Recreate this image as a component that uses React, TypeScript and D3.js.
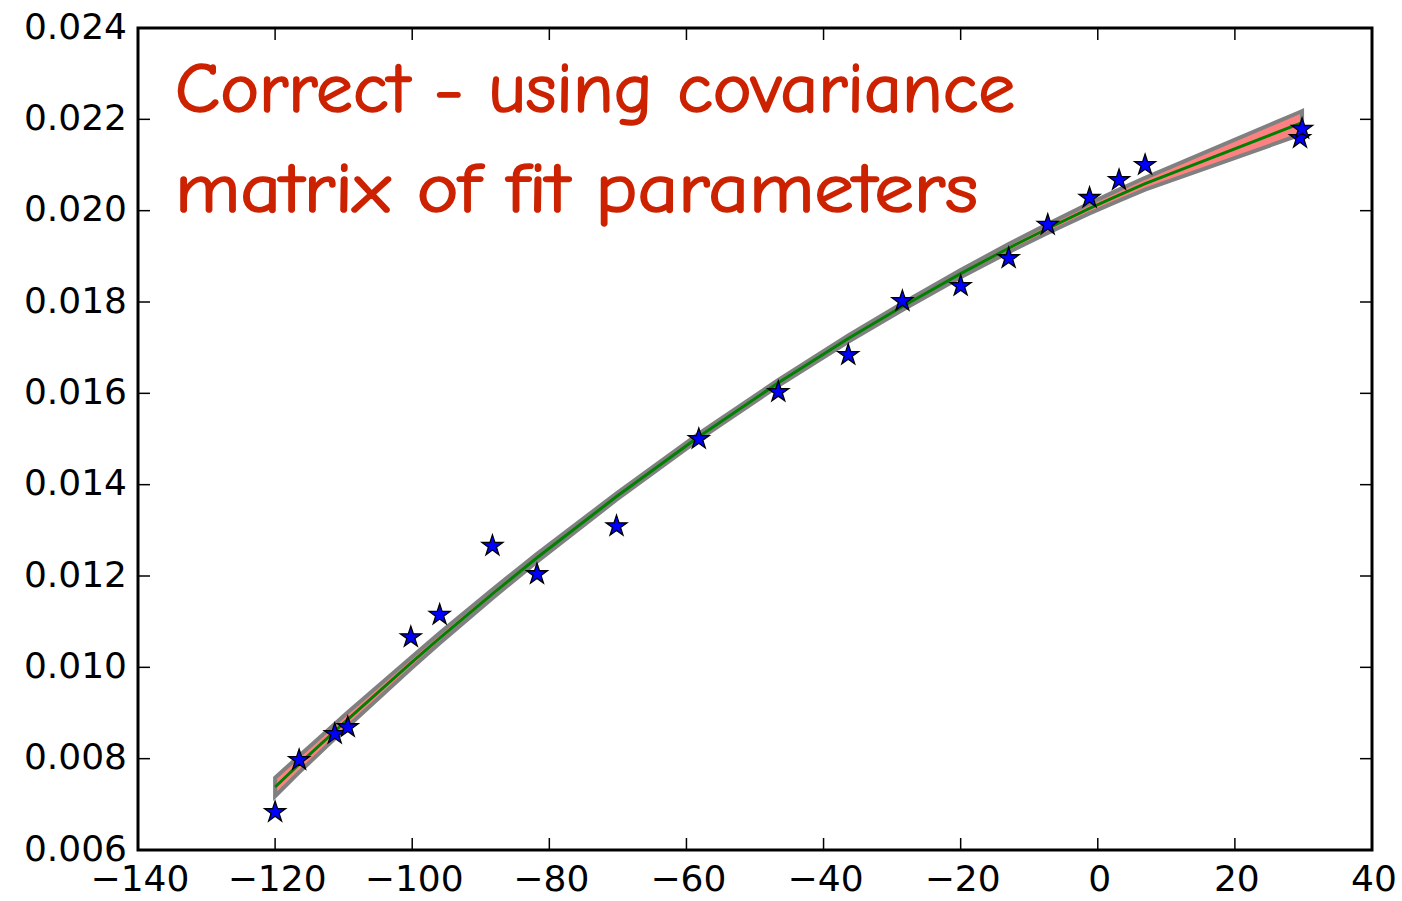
import React from "react";
import * as d3 from "d3";

// Observed data points (stars)
const pointX = [-120.0, -116.5, -111.3, -109.4, -100.2, -96.0, -88.3, -81.8, -70.2, -58.2, -46.6, -36.4, -28.5, -20.0, -13.0, -7.3, -1.2, 3.1, 6.9, 29.5, 29.8];
const pointY = [0.00683, 0.00797, 0.00854, 0.00869, 0.01066, 0.01115, 0.01266, 0.01204, 0.01309, 0.01500, 0.01603, 0.01684, 0.01802, 0.01835, 0.01896, 0.01969, 0.02028, 0.02067, 0.02100, 0.02159, 0.02179];

// Fitted curve evaluated at the data x positions, and its 1-sigma half-width
const fitY = [0.00738, 0.00788, 0.00860, 0.00886, 0.01009, 0.01064, 0.01161, 0.01240, 0.01374, 0.01505, 0.01623, 0.01720, 0.01790, 0.01862, 0.01918, 0.01961, 0.02005, 0.02034, 0.02059, 0.02191, 0.02192];
const fitErr = [0.00020, 0.00018, 0.00016, 0.000155, 0.00012, 0.00011, 0.000095, 0.000085, 0.00007, 0.000065, 0.000065, 0.00007, 0.000075, 0.00008, 0.00009, 0.0001, 0.00011, 0.00012, 0.00013, 0.00025, 0.00026];

const xTicks = [-140, -120, -100, -80, -60, -40, -20, 0, 20, 40];
const yTicks = [0.006, 0.008, 0.010, 0.012, 0.014, 0.016, 0.018, 0.020, 0.022, 0.024];

const titleLines = ["Correct - using covariance", "matrix of fit parameters"];

const W = 1402;
const H = 901;
const L = 138, R = 1372, T = 28, B = 850;

export default function App() {
  const x = d3.scaleLinear().domain([-140, 40]).range([L, R]);
  const y = d3.scaleLinear().domain([0.006, 0.024]).range([B, T]);

  const fitData = pointX.map((px, i) => ({ x: px, f: fitY[i], e: fitErr[i] })).sort((a, b) => a.x - b.x);

  const area = d3
    .area<{ x: number; f: number; e: number }>()
    .x((d) => x(d.x))
    .y0((d) => y(d.f - d.e))
    .y1((d) => y(d.f + d.e));
  const line = d3
    .line<{ x: number; f: number; e: number }>()
    .x((d) => x(d.x))
    .y((d) => y(d.f));

  const star = d3.symbol().type(d3.symbolStar).size(136)();
  const fmtY = d3.format(".3f");
  const fmtX = (v: number) => (v < 0 ? "\u2212" + Math.abs(v) : String(v));
  const tickLen = 12;
  const font = "'DejaVu Sans', sans-serif";

  return (
    <div style={{ position: "absolute", left: 0, top: 0 }}>
      <svg width={W} height={H} style={{ display: "block", background: "#fff" }}>
        <rect x={0} y={0} width={W} height={H} fill="#fff" />
        {/* band */}
        <path d={area(fitData) || ""} fill="#ff8080" stroke="#808080" strokeWidth={4} strokeLinejoin="miter" />
        {/* fit line */}
        <path d={line(fitData) || ""} fill="none" stroke="#008000" strokeWidth={3} />
        {/* stars */}
        {pointX.map((px, i) => (
          <path
            key={i}
            d={star || ""}
            transform={`translate(${x(px)},${y(pointY[i])})`}
            fill="#0000ff"
            stroke="#000"
            strokeWidth={1.3}
            strokeLinejoin="miter"
          />
        ))}
        {/* title text */}
        <g
          fill="#cc2200"
          stroke="#cc2200"
          strokeWidth={1.6}
          fontFamily="'Comic Sans MS', 'Comic Neue', Lato, sans-serif"
          fontSize={70}
        >
          <text x={175} y={112} textLength={840} lengthAdjust="spacingAndGlyphs">
            {titleLines[0]}
          </text>
          <text x={175} y={212} textLength={803} lengthAdjust="spacingAndGlyphs">
            {titleLines[1]}
          </text>
        </g>
        {/* ticks */}
        <g stroke="#000" strokeWidth={1.5}>
          {xTicks.map((t) => (
            <g key={"xt" + t}>
              <line x1={x(t)} x2={x(t)} y1={B} y2={B - tickLen} />
              <line x1={x(t)} x2={x(t)} y1={T} y2={T + tickLen} />
            </g>
          ))}
          {yTicks.map((t) => (
            <g key={"yt" + t}>
              <line x1={L} x2={L + tickLen} y1={y(t)} y2={y(t)} />
              <line x1={R} x2={R - tickLen} y1={y(t)} y2={y(t)} />
            </g>
          ))}
        </g>
        {/* frame */}
        <rect x={L} y={T} width={R - L} height={B - T} fill="none" stroke="#000" strokeWidth={3} />
        {/* tick labels */}
        <g fontFamily={font} fontSize={36} fill="#000">
          {xTicks.map((t) => (
            <text key={"xl" + t} x={x(t) + 2} y={B + 41} textAnchor="middle">
              {fmtX(t)}
            </text>
          ))}
          {yTicks.map((t) => (
            <text key={"yl" + t} x={L - 11} y={y(t) + 10.5} textAnchor="end">
              {fmtY(t)}
            </text>
          ))}
        </g>
      </svg>
    </div>
  );
}
